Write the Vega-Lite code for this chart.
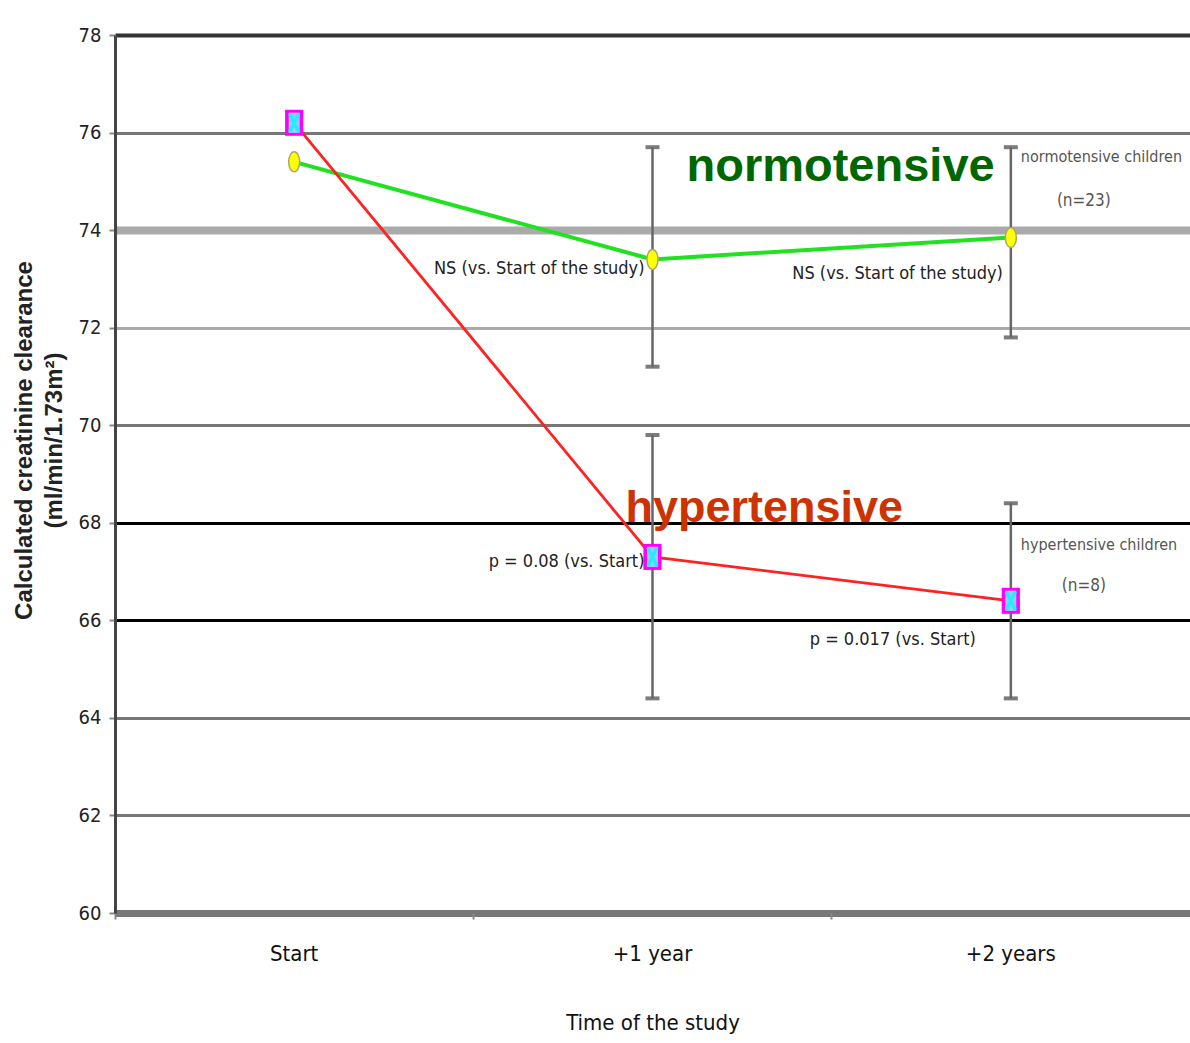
{
  "$schema": "https://vega.github.io/schema/vega-lite/v6.json",
  "width": 1075,
  "height": 878,
  "autosize": "none",
  "padding": {"left": 115, "top": 35, "right": 0, "bottom": 130},
  "background": "white",
  "config": {"view": {"stroke": null}},
  "resolve": {"axis": {"y": "independent"}},
  "datasets": {
    "points": [
      {"time": "Start", "group": "normotensive", "value": 75.4},
      {"time": "+1 year", "group": "normotensive", "value": 73.4},
      {"time": "+2 years", "group": "normotensive", "value": 73.85},
      {"time": "Start", "group": "hypertensive", "value": 76.2},
      {"time": "+1 year", "group": "hypertensive", "value": 67.3},
      {"time": "+2 years", "group": "hypertensive", "value": 66.4}
    ],
    "errors": [
      {"time": "+1 year", "group": "normotensive", "lo": 71.2, "hi": 75.7},
      {"time": "+1 year", "group": "hypertensive", "lo": 64.4, "hi": 69.8},
      {"time": "+2 years", "group": "normotensive", "lo": 71.8, "hi": 75.7},
      {"time": "+2 years", "group": "hypertensive", "lo": 64.4, "hi": 68.4}
    ]
  },
  "layer": [
    {
      "data": {"name": "points"},
      "mark": {"type": "line"},
      "encoding": {
        "x": {
          "field": "time", "type": "nominal", "sort": ["Start", "+1 year", "+2 years"],
          "scale": {"type": "band", "paddingInner": 0, "paddingOuter": 0},
          "axis": {
            "title": "Time of the study",
            "titleFont": "DejaVu Sans Condensed, Liberation Sans Narrow, sans-serif",
            "titleFontSize": 22, "titleFontWeight": "normal", "titleColor": "#111",
            "titlePadding": 48,
            "labelFont": "DejaVu Sans Condensed, Liberation Sans Narrow, sans-serif",
            "labelFontSize": 22, "labelColor": "#111", "labelPadding": 24, "labelAngle": 0,
            "bandPosition": 0, "domain": false, "grid": false,
            "ticks": true, "tickSize": 6, "tickColor": "#888", "tickWidth": 2
          }
        },
        "y": {
          "field": "value", "type": "quantitative",
          "scale": {"domain": [60, 78], "nice": false, "zero": false},
          "axis": {
            "values": [60, 62, 64, 66, 68, 70, 72, 74, 76, 78],
            "title": ["Calculated creatinine clearance", "(ml/min/1.73m²)"],
            "titleFont": "Liberation Sans, Arial, sans-serif",
            "titleFontSize": 24, "titleFontWeight": "bold", "titleColor": "#222",
            "titleLineHeight": 30, "titlePadding": 12, "titleY": 405,
            "labelFont": "DejaVu Sans Condensed, Liberation Sans Narrow, sans-serif",
            "labelFontSize": 20, "labelColor": "#222", "labelPadding": 8,
            "domain": true, "domainColor": "#444", "domainWidth": 3,
            "ticks": true, "tickSize": 6, "tickColor": "#888", "tickWidth": 2,
            "grid": true, "gridOpacity": 1,
            "gridColor": {
              "condition": [
                {"test": "datum.value == 74 || datum.value == 72", "value": "#aaaaaa"},
                {"test": "datum.value == 68 || datum.value == 66", "value": "#000000"},
                {"test": "datum.value == 78", "value": "#333333"}
              ],
              "value": "#777777"
            },
            "gridWidth": {
              "condition": [
                {"test": "datum.value == 74", "value": 8},
                {"test": "datum.value == 60", "value": 7},
                {"test": "datum.value == 78", "value": 4}
              ],
              "value": 3
            }
          }
        },
        "color": {
          "field": "group", "type": "nominal",
          "scale": {"domain": ["normotensive", "hypertensive"], "range": ["#22e022", "#ff2222"]},
          "legend": null
        },
        "strokeWidth": {
          "field": "group", "type": "nominal",
          "scale": {"domain": ["normotensive", "hypertensive"], "range": [4, 2.8]},
          "legend": null
        }
      }
    },
    {
      "data": {"name": "errors"},
      "mark": {"type": "errorbar", "color": "#666666", "thickness": 2.5, "ticks": {"size": 14, "color": "#444444", "thickness": 4}},
      "encoding": {
        "x": {"field": "time", "type": "nominal", "sort": ["Start", "+1 year", "+2 years"]},
        "y": {"field": "lo", "type": "quantitative", "axis": null},
        "y2": {"field": "hi"}
      }
    },
    {
      "data": {"name": "points"},
      "transform": [{"filter": "datum.group == 'normotensive'"}],
      "mark": {"type": "point", "shape": "M -0.55 0 A 0.55 1 0 1 0 0.55 0 A 0.55 1 0 1 0 -0.55 0 Z", "size": 400, "filled": true, "fill": "#ffff00", "stroke": "#aaaa66", "strokeWidth": 1.5, "opacity": 1},
      "encoding": {
        "x": {"field": "time", "type": "nominal", "sort": ["Start", "+1 year", "+2 years"]},
        "y": {"field": "value", "type": "quantitative", "axis": null}
      }
    },
    {
      "data": {"name": "points"},
      "transform": [{"filter": "datum.group == 'hypertensive'"}],
      "mark": {"type": "point", "shape": "M -0.7 -1 H 0.7 V 1 H -0.7 Z", "size": 676, "filled": true, "fill": "#ff00ff", "opacity": 1},
      "encoding": {
        "x": {"field": "time", "type": "nominal", "sort": ["Start", "+1 year", "+2 years"]},
        "y": {"field": "value", "type": "quantitative", "axis": null}
      }
    },
    {
      "data": {"name": "points"},
      "transform": [{"filter": "datum.group == 'hypertensive'"}],
      "mark": {"type": "point", "shape": "M -0.42 -0.78 H 0.42 V 0.78 H -0.42 Z", "size": 676, "filled": true, "fill": "#9fc8ff", "opacity": 1},
      "encoding": {
        "x": {"field": "time", "type": "nominal", "sort": ["Start", "+1 year", "+2 years"]},
        "y": {"field": "value", "type": "quantitative", "axis": null}
      }
    },
    {
      "data": {"name": "points"},
      "transform": [{"filter": "datum.group == 'hypertensive'"}],
      "mark": {"type": "point", "shape": "M -0.35 -0.7 L 0.35 0.7 M 0.35 -0.7 L -0.35 0.7", "size": 676, "filled": false, "stroke": "#22eeff", "strokeWidth": 3.5, "opacity": 1},
      "encoding": {
        "x": {"field": "time", "type": "nominal", "sort": ["Start", "+1 year", "+2 years"]},
        "y": {"field": "value", "type": "quantitative", "axis": null}
      }
    },
    {
      "data": {"values": [
        {"time": "+1 year", "y": 73.2, "label": "NS (vs. Start of the study)"},
        {"time": "+1 year", "y": 67.2, "label": "p = 0.08 (vs. Start)"},
        {"time": "+2 years", "y": 73.1, "label": "NS (vs. Start of the study)"}
      ]},
      "mark": {"type": "text", "align": "right", "baseline": "middle", "dx": -8, "font": "DejaVu Sans Condensed, Liberation Sans Narrow, sans-serif", "fontSize": 18, "color": "#222"},
      "encoding": {
        "x": {"field": "time", "type": "nominal", "sort": ["Start", "+1 year", "+2 years"]},
        "y": {"field": "y", "type": "quantitative", "axis": null},
        "text": {"field": "label"}
      }
    },
    {
      "data": {"values": [
        {"time": "+2 years", "y": 65.6, "label": "p = 0.017 (vs. Start)"}
      ]},
      "mark": {"type": "text", "align": "right", "baseline": "middle", "dx": -35, "font": "DejaVu Sans Condensed, Liberation Sans Narrow, sans-serif", "fontSize": 18, "color": "#222"},
      "encoding": {
        "x": {"field": "time", "type": "nominal", "sort": ["Start", "+1 year", "+2 years"]},
        "y": {"field": "y", "type": "quantitative", "axis": null},
        "text": {"field": "label"}
      }
    },
    {
      "data": {"values": [
        {"time": "+2 years", "y": 75.5, "label": "normotensive children"},
        {"time": "+2 years", "y": 67.55, "label": "hypertensive children"}
      ]},
      "mark": {"type": "text", "align": "left", "baseline": "middle", "dx": 10, "font": "DejaVu Sans Condensed, Liberation Sans Narrow, sans-serif", "fontSize": 16, "color": "#555"},
      "encoding": {
        "x": {"field": "time", "type": "nominal", "sort": ["Start", "+1 year", "+2 years"]},
        "y": {"field": "y", "type": "quantitative", "axis": null},
        "text": {"field": "label"}
      }
    },
    {
      "data": {"values": [
        {"time": "+2 years", "y": 74.6, "label": "(n=23)"},
        {"time": "+2 years", "y": 66.7, "label": "(n=8)"}
      ]},
      "mark": {"type": "text", "align": "center", "baseline": "middle", "dx": 73, "font": "DejaVu Sans Condensed, Liberation Sans Narrow, sans-serif", "fontSize": 17, "color": "#555"},
      "encoding": {
        "x": {"field": "time", "type": "nominal", "sort": ["Start", "+1 year", "+2 years"]},
        "y": {"field": "y", "type": "quantitative", "axis": null},
        "text": {"field": "label"}
      }
    },
    {
      "data": {"values": [
        {"time": "+1 year", "y": 75.3, "label": "normotensive"}
      ]},
      "mark": {"type": "text", "align": "left", "baseline": "middle", "dx": 34, "font": "Liberation Sans, Arial, sans-serif", "fontWeight": "bold", "fontSize": 47, "color": "#006600"},
      "encoding": {
        "x": {"field": "time", "type": "nominal", "sort": ["Start", "+1 year", "+2 years"]},
        "y": {"field": "y", "type": "quantitative", "axis": null},
        "text": {"field": "label"}
      }
    },
    {
      "data": {"values": [
        {"time": "+1 year", "y": 68.3, "label": "hypertensive"}
      ]},
      "mark": {"type": "text", "align": "left", "baseline": "middle", "dx": -27, "font": "Liberation Sans, Arial, sans-serif", "fontWeight": "bold", "fontSize": 45, "color": "#cc3300"},
      "encoding": {
        "x": {"field": "time", "type": "nominal", "sort": ["Start", "+1 year", "+2 years"]},
        "y": {"field": "y", "type": "quantitative", "axis": null},
        "text": {"field": "label"}
      }
    }
  ]
}
